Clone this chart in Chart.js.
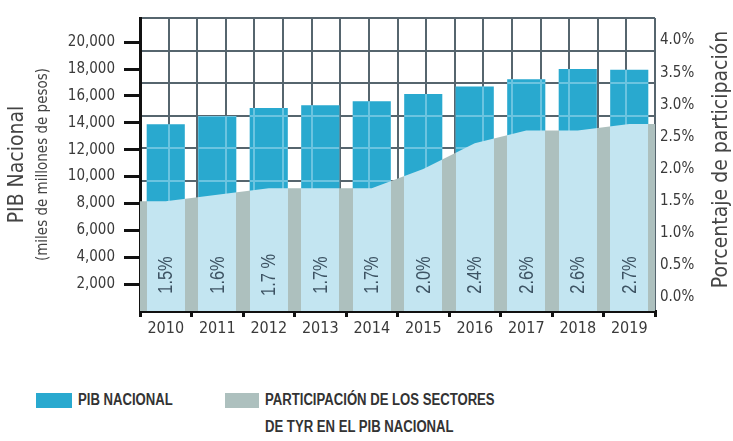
<!DOCTYPE html>
<html lang="es">

<head>
    <meta charset="UTF-8">
    <meta name="viewport" content="width=device-width, initial-scale=1.0">
    <title>PIB Nacional</title>
    <script src="https://cdn.jsdelivr.net/npm/chart.js@4.4.1/dist/chart.umd.min.js"></script>
    <style>
        body { margin: 0; background: #fff; }
        #wrap { position: relative; width: 733px; height: 441px; overflow: hidden; }
        #caja { position: absolute; left: 0; top: 0; width: 733px; height: 350px; }
        .cuadro { position: absolute; height: 15px; top: 393px; }
        .texto { position: absolute; top: 386px; font: bold 16px/27px "Liberation Sans", Arial, sans-serif; color: #333;
                 white-space: nowrap; transform: scaleX(0.82); transform-origin: 0 0; }
    </style>
</head>

<body>
    <div id="wrap">
        <div id="caja"><canvas id="chart"></canvas></div>
        <div id="leyenda"></div>
    </div>
    <script>
        // datos
        const years = ['2010', '2011', '2012', '2013', '2014', '2015', '2016', '2017', '2018', '2019'];
        const pibNacional = [13900, 14500, 15100, 15300, 15600, 16150, 16700, 17250, 18000, 17950];
        const participacion = [1.5, 1.6, 1.7, 1.7, 1.7, 2.0, 2.4, 2.6, 2.6, 2.7];
        const etiquetasPct = ['1.5%', '1.6%', '1.7 %', '1.7%', '1.7%', '2.0%', '2.4%', '2.6%', '2.6%', '2.7%'];
        const ticksPib = [2000, 4000, 6000, 8000, 10000, 12000, 14000, 16000, 18000, 20000];
        const ticksPct = [0, 0.5, 1.0, 1.5, 2.0, 2.5, 3.0, 3.5, 4.0];
        const leyenda = [['PIB NACIONAL'], ['PARTICIPACIÓN DE LOS SECTORES', 'DE TYR EN EL PIB NACIONAL']];

        const AZUL = '#29a9cf';
        const AZUL_CLARO = '#c3e5f1';
        const GRIS = '#adc0be';
        const REJILLA = '#56656e';
        const REJILLA_CLARA = '#6cc4e0';
        const TEXTO = '#3a3a3a';
        const FUENTE = '"DejaVu Sans Condensed", "DejaVu Sans", sans-serif';
        const ANCHO_BARRA = 0.74;

        // relleno del area: gris entre barras, azul claro debajo de cada barra
        function franjas(chart) {
            const area = chart.chartArea;
            const x = chart.scales.x;
            if (!area || !x) return GRIS;
            const w = area.right - area.left;
            const paso = x.width / years.length;
            const g = chart.ctx.createLinearGradient(area.left, 0, area.right, 0);
            const c = v => Math.min(1, Math.max(0, v));
            g.addColorStop(0, GRIS);
            years.forEach((y, i) => {
                const px = x.getPixelForValue(i);
                const a = c((px - paso * ANCHO_BARRA / 2 - area.left) / w);
                const b = c((px + paso * ANCHO_BARRA / 2 - area.left) / w);
                g.addColorStop(a, GRIS); g.addColorStop(a, AZUL_CLARO);
                g.addColorStop(b, AZUL_CLARO); g.addColorStop(b, GRIS);
            });
            g.addColorStop(1, GRIS);
            return g;
        }

        // lineas claras de la rejilla encima de las barras
        const rejillaBarras = {
            id: 'rejillaBarras',
            afterDatasetDraw(chart, args) {
                if (args.index !== 0) return;
                const { ctx, chartArea } = chart;
                const gx = chart.scales.gx, gy = chart.scales.gy;
                ctx.save();
                ctx.beginPath();
                args.meta.data.forEach(b => {
                    ctx.rect(b.x - b.width / 2, b.y, b.width, b.base - b.y);
                });
                ctx.clip();
                ctx.strokeStyle = REJILLA_CLARA;
                ctx.lineWidth = 2;
                ctx.beginPath();
                gx.ticks.forEach(t => {
                    const px = Math.round(gx.getPixelForValue(t.value));
                    ctx.moveTo(px, chartArea.top); ctx.lineTo(px, chartArea.bottom);
                });
                gy.ticks.forEach(t => {
                    const py = Math.round(gy.getPixelForValue(t.value));
                    ctx.moveTo(chartArea.left, py); ctx.lineTo(chartArea.right, py);
                });
                ctx.stroke();
                ctx.restore();
            }
        };

        // porcentajes verticales y titulo del eje derecho
        const textos = {
            id: 'textos',
            afterDraw(chart) {
                const { ctx, chartArea } = chart;
                const meta = chart.getDatasetMeta(0);
                ctx.save();
                ctx.fillStyle = '#3d5363';
                ctx.font = '20px "Liberation Sans", Arial, sans-serif';
                ctx.textAlign = 'center';
                ctx.textBaseline = 'middle';
                meta.data.forEach((b, i) => {
                    ctx.save();
                    ctx.translate(b.x, chartArea.bottom - 36);
                    ctx.rotate(-Math.PI / 2);
                    ctx.scale(0.82, 1);
                    ctx.fillText(etiquetasPct[i], 0, 1);
                    ctx.restore();
                });
                const yr = chart.scales.yr;
                ctx.fillStyle = '#444';
                ctx.font = '21px ' + FUENTE;
                ctx.translate(yr.right - 11, (chartArea.top + chartArea.bottom) / 2 - 5);
                ctx.rotate(-Math.PI / 2);
                ctx.fillText('Porcentaje de participación', 0, 0);
                ctx.restore();
            }
        };

        Chart.defaults.font.family = FUENTE;
        Chart.defaults.color = TEXTO;

        const graph = new Chart(document.getElementById('chart'), {
            type: 'bar',
            data: {
                labels: years,
                datasets: [
                    {
                        type: 'bar',
                        label: 'PIB NACIONAL',
                        data: pibNacional,
                        backgroundColor: AZUL,
                        barPercentage: ANCHO_BARRA,
                        categoryPercentage: 1,
                        grouped: false,
                        xAxisID: 'x',
                        yAxisID: 'y',
                        order: 1
                    },
                    {
                        type: 'line',
                        label: 'PARTICIPACIÓN DE LOS SECTORES DE TYR EN EL PIB NACIONAL',
                        data: [
                            { x: -0.5, y: participacion[0] },
                            ...participacion.map((v, i) => ({ x: i, y: v })),
                            { x: years.length - 0.5, y: participacion[participacion.length - 1] }
                        ],
                        backgroundColor: c => franjas(c.chart),
                        borderWidth: 0,
                        pointRadius: 0,
                        fill: 'start',
                        xAxisID: 'xl',
                        yAxisID: 'yr',
                        order: 0
                    }
                ]
            },
            options: {
                responsive: true,
                maintainAspectRatio: false,
                animation: false,
                layout: { padding: { top: 10, left: 0, right: 0, bottom: 0 } },
                plugins: { legend: { display: false }, tooltip: { enabled: false } },
                scales: {
                    x: {
                        type: 'category',
                        position: 'bottom',
                        weight: 1,
                        offset: true,
                        grid: { offset: true, drawOnChartArea: false, color: '#111', lineWidth: 3, tickLength: 6 },
                        border: { color: '#111', width: 3 },
                        ticks: { font: { size: 16 }, padding: 2, maxRotation: 0, autoSkip: false },
                        afterFit: s => { s.height = 39; }
                    },
                    xl: { type: 'linear', display: false, offset: false, min: -0.5, max: years.length - 0.5 },
                    gx: {
                        type: 'linear', position: 'bottom', weight: 0, offset: false, min: 0, max: 18,
                        ticks: { display: false, stepSize: 1 },
                        grid: { offset: false, color: REJILLA, lineWidth: 2, drawTicks: false },
                        border: { display: false },
                        afterFit: s => { s.height = 0; }
                    },
                    gy: {
                        type: 'linear', position: 'left', weight: 0, min: 0, max: 9,
                        ticks: { display: false, stepSize: 1 },
                        grid: { color: c => c.tick.value === 0 ? 'rgba(0,0,0,0)' : REJILLA, lineWidth: 2, drawTicks: false },
                        border: { display: false },
                        afterFit: s => { s.width = 0; }
                    },
                    y: {
                        type: 'linear', position: 'left', weight: 1, min: 0, max: 21800,
                        afterBuildTicks: s => { s.ticks = ticksPib.map(v => ({ value: v })); },
                        ticks: { font: { size: 15 }, padding: 9, callback: v => Number(v).toLocaleString('en-US') },
                        grid: { drawOnChartArea: false, color: '#111', lineWidth: 3, tickLength: 16 },
                        border: { color: '#111', width: 3 },
                        title: { display: true, text: '(miles de millones de pesos)', color: '#444', font: { size: 15 }, padding: { top: 4, bottom: 0 } },
                        afterFit: s => { s.width = 110; }
                    },
                    yTitulo: {
                        type: 'linear', position: 'left', weight: 2,
                        ticks: { display: false },
                        grid: { display: false, drawTicks: false },
                        border: { display: false },
                        title: { display: true, text: 'PIB Nacional', color: '#444', font: { size: 21 }, padding: { top: 5, bottom: 0 } },
                        afterFit: s => { s.width = 30; }
                    },
                    yr: {
                        type: 'linear', position: 'right', min: -0.21, max: 4.35,
                        afterBuildTicks: s => { s.ticks = ticksPct.map(v => ({ value: v })); },
                        ticks: { font: { size: 15 }, padding: 5, callback: v => Number(v).toFixed(1) + '%' },
                        grid: { display: false, drawTicks: false },
                        border: { display: false },
                        afterFit: s => { s.width = 78; }
                    }
                }
            },
            plugins: [rejillaBarras, textos]
        });

        // leyenda en html
        const caja = document.getElementById('leyenda');
        const posiciones = [{ box: 36, ancho: 36, txt: 78 }, { box: 225, ancho: 34, txt: 265 }];
        graph.data.datasets.forEach((ds, i) => {
            const cuadro = document.createElement('div');
            cuadro.className = 'cuadro';
            cuadro.style.left = posiciones[i].box + 'px';
            cuadro.style.width = posiciones[i].ancho + 'px';
            cuadro.style.background = i === 0 ? AZUL : GRIS;
            const texto = document.createElement('div');
            texto.className = 'texto';
            texto.style.left = posiciones[i].txt + 'px';
            texto.innerHTML = leyenda[i].join('<br>');
            caja.appendChild(cuadro);
            caja.appendChild(texto);
        });
    </script>
</body>

</html>
